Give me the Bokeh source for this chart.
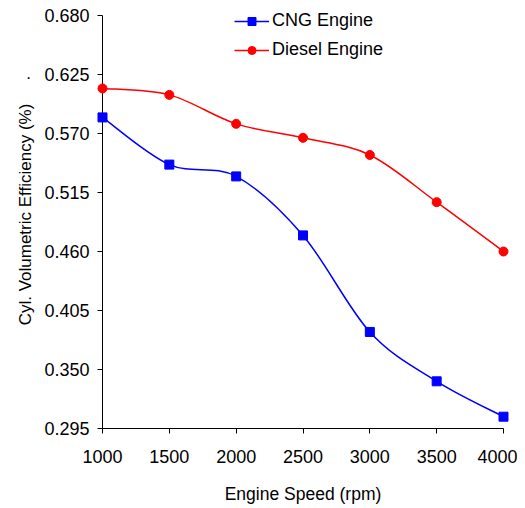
from bokeh.plotting import figure
from bokeh.models import (Range1d, FixedTicker, PrintfTickFormatter, Legend,
                          LegendItem, Title, ColumnDataSource)
from bokeh.core.properties import value
from bokeh.embed import file_html
from bokeh.resources import INLINE

# ---- data ----
speed = [1000, 1500, 2000, 2500, 3000, 3500, 4000]
cng = [0.585, 0.541, 0.530, 0.475, 0.385, 0.339, 0.306]
diesel = [0.612, 0.606, 0.579, 0.566, 0.550, 0.506, 0.460]
y_ticks = [0.295, 0.350, 0.405, 0.460, 0.515, 0.570, 0.625, 0.680]
x_ticks = [1000, 1500, 2000, 2500, 3000, 3500, 4000]

FONT = "Liberation Sans"

# frame reaches to the top of the canvas (room for the legend); the axis
# itself stops at 0.680 through its bounds
Y0, Y1 = y_ticks[0], y_ticks[-1]
FRAME_H = 413.0
TOP_PAD_PX = 15.0
y_end = Y1 + TOP_PAD_PX * (Y1 - Y0) / FRAME_H

p = figure(width=517, height=508, output_backend="svg", toolbar_location=None,
           x_range=Range1d(x_ticks[0], x_ticks[-1]), y_range=Range1d(Y0, y_end),
           min_border_left=102, min_border_right=14, min_border_top=0,
           min_border_bottom=80)
p.outline_line_color = None
p.grid.grid_line_color = None
p.background_fill_color = "white"
p.border_fill_color = "white"


def smooth_segments(xs, ys):
    """Bezier control points (Catmull-Rom style) for a smoothed line."""
    n = len(xs)
    seg = dict(x0=[], y0=[], x1=[], y1=[], cx0=[], cy0=[], cx1=[], cy1=[])
    for i in range(n - 1):
        xa, ya = xs[max(i - 1, 0)], ys[max(i - 1, 0)]
        xb, yb = xs[i], ys[i]
        xc, yc = xs[i + 1], ys[i + 1]
        xd, yd = xs[min(i + 2, n - 1)], ys[min(i + 2, n - 1)]
        seg["x0"].append(xb); seg["y0"].append(yb)
        seg["x1"].append(xc); seg["y1"].append(yc)
        seg["cx0"].append(xb + (xc - xa) / 6.0)
        seg["cy0"].append(yb + (yc - ya) / 6.0)
        seg["cx1"].append(xc - (xd - xb) / 6.0)
        seg["cy1"].append(yc - (yd - yb) / 6.0)
    return ColumnDataSource(seg)


BLUE = "#0000FF"
RED = "#FF0000"

b1 = p.bezier(x0="x0", y0="y0", x1="x1", y1="y1", cx0="cx0", cy0="cy0",
              cx1="cx1", cy1="cy1", source=smooth_segments(speed, cng),
              line_color=BLUE, line_width=1.5)
m1 = p.scatter(speed, cng, marker="square", size=9, fill_color=BLUE,
               line_color=BLUE)
b2 = p.bezier(x0="x0", y0="y0", x1="x1", y1="y1", cx0="cx0", cy0="cy0",
              cx1="cx1", cy1="cy1", source=smooth_segments(speed, diesel),
              line_color=RED, line_width=1.5)
m2 = p.scatter(speed, diesel, marker="circle", size=9, fill_color=RED,
               line_color=RED)
# draw markers above the frame clip so edge markers are not cut in half
m1.level = "overlay"
m2.level = "overlay"

legend = Legend(items=[LegendItem(label="CNG Engine", renderers=[b1, m1]),
                       LegendItem(label="Diesel Engine", renderers=[b2, m2])],
                location=(132, 368), padding=0, margin=0, spacing=8,
                glyph_width=35, glyph_height=20, label_height=20,
                label_standoff=3,
                label_text_font=FONT, label_text_font_size="18px",
                label_text_color="black",
                border_line_color=None, background_fill_alpha=0)
p.add_layout(legend, "center")

for ax in (p.xaxis[0], p.yaxis[0]):
    ax.axis_line_color = "black"
    ax.axis_line_width = 1
    ax.major_tick_in = 0
    ax.major_tick_out = 5
    ax.minor_tick_line_color = None
    ax.major_label_text_font = FONT
    ax.major_label_text_font_size = "18px"
    ax.major_label_text_color = "black"
    ax.axis_label_text_font = FONT
    ax.axis_label_text_font_size = "17.5px"
    ax.axis_label_text_font_style = "normal"
    ax.axis_label_text_color = "black"

p.xaxis.ticker = FixedTicker(ticks=x_ticks)
p.yaxis.ticker = FixedTicker(ticks=y_ticks)
p.yaxis.bounds = (Y0, Y1)
p.yaxis.formatter = PrintfTickFormatter(format="%.3f")
p.xaxis.axis_label = "Engine Speed (rpm)"
p.xaxis.major_label_standoff = 16
p.xaxis.axis_label_standoff = 18
p.yaxis.major_label_standoff = 8

# y-axis title, a little above the frame centre as in the reference
p.add_layout(Title(text="Cyl. Volumetric Efficiency (%)", align="center",
                   offset=23, text_font=FONT, text_font_size="17px",
                   text_font_style="normal", text_color="black",
                   standoff=13), "left")

# stray dot seen left of the 0.625 tick label in the reference
dot = p.text(x=[speed[0]], y=[y_ticks[6]], text=["."], x_offset=-74,
             y_offset=-2, text_align="center", text_baseline="alphabetic",
             text_font=value(FONT), text_font_size="17px", text_color="black")
dot.level = "overlay"

open("out.html", "w").write(file_html(p, INLINE))
